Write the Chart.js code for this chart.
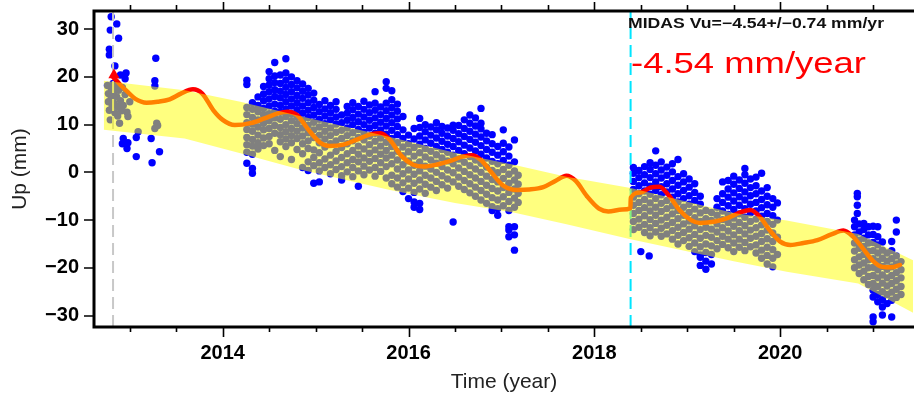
<!DOCTYPE html>
<html>
<head>
<meta charset="utf-8">
<script src="https://cdn.jsdelivr.net/npm/chart.js@4.4.1/dist/chart.umd.min.js"></script>
<style>
  html, body { margin: 0; padding: 0; background: #fff; }
  #wrap { width: 914px; height: 396px; }
</style>
</head>
<body>
<div id="wrap"><canvas id="chart" width="914" height="396"></canvas></div>
<script>
// ── Axis ranges & labels ──
const X_RANGE = [2012.615, 2021.44];
const Y_RANGE = [-32.4, 33.8];
const X_LABEL_YEARS = [2014, 2016, 2018, 2020];
const EVENT_START   = 2012.82;   // grey dashed line
const EVENT_ANTENNA = 2018.39;   // cyan dashed line
const START_MARK    = [2012.83, 20.4];
const MIDAS_TEXT = "MIDAS Vu=\u22124.54+/\u22120.74 mm/yr";
const RATE_TEXT  = "-4.54 mm/year";

// ── Trend band (drawn half transparent over everything) ──
const BAND_YEARS = [2012.72, 2013.59, 2014.19, 2014.83, 2015.80, 2016.50, 2017.13, 2017.70, 2018.39, 2019.50, 2020.07, 2020.84, 2021.43];
const BAND_UPPER = [19.2, 17.2, 14.8, 11.8, 7.4, 4.1, 1.6, -0.9, -3.3, -8.5, -10.1, -12.9, -18.4];
const BAND_LOWER = [8.9, 7.1, 4.0, 0.6, -3.7, -6.4, -8.4, -10.9, -14.0, -18.6, -20.8, -23.3, -29.4];

// ── Seasonal fit ──
const FIT_YEARS = [2012.82, 2012.90, 2012.98, 2013.06, 2013.18, 2013.30, 2013.43, 2013.55, 2013.68, 2013.78, 2013.90, 2014.00, 2014.13,
  2014.30, 2014.45, 2014.60, 2014.70, 2014.80, 2014.92, 2015.05, 2015.15, 2015.30, 2015.45, 2015.60, 2015.70, 2015.80, 2015.92,
  2016.05, 2016.16, 2016.30, 2016.45, 2016.58, 2016.68, 2016.78, 2016.90, 2017.02, 2017.17, 2017.30, 2017.45, 2017.58, 2017.70,
  2017.80, 2017.92, 2018.05, 2018.15, 2018.30, 2018.388, 2018.392, 2018.50, 2018.60, 2018.70, 2018.80, 2018.92, 2019.04, 2019.14,
  2019.30, 2019.43, 2019.57, 2019.68, 2019.78, 2019.89, 2020.00, 2020.11, 2020.25, 2020.40, 2020.55, 2020.68, 2020.78, 2020.90,
  2021.00, 2021.10, 2021.20, 2021.29];
const FIT_UP = [20.0, 18.3, 16.8, 15.4, 14.6, 14.8, 15.3, 16.5, 17.4, 16.5, 13.0, 11.0, 9.9,
  10.3, 11.3, 12.4, 12.7, 12.0, 9.0, 6.2, 5.5, 5.8, 6.9, 8.0, 8.2, 6.8, 3.5,
  1.6, 1.2, 1.6, 2.4, 3.3, 3.6, 2.6, -0.2, -2.8, -3.7, -3.6, -3.1, -1.8, -0.7,
  -1.8, -5.0, -7.6, -8.2, -7.8, -7.5, -5.3, -4.2, -3.2, -3.0, -4.8, -8.0, -10.0, -10.6,
  -10.3, -9.6, -8.4, -7.9, -9.3, -12.2, -14.5, -15.2, -14.8, -14.2, -13.0, -12.2, -13.4, -16.2,
  -18.6, -19.8, -19.9, -19.4];

// ── Daily positions: [year, up...] columns and single [year, up] pairs ──
const OBS_2012 = [
  [2012.80, 32.6], [2012.86, 31.1], [2012.79, 29.8], [2012.88, 28.1], [2012.78, 25.8], [2012.78, 24.6], [2012.84, 22.3],
  [2013.28, 23.9], [2012.90, 20.4], [2012.96, 20.8], [2012.95, 19.6], [2013.27, 19.2], [2013.27, 18.1], [2012.93, 7.1],
  [2012.98, 6.2], [2012.97, 5.0], [2013.07, 7.3], [2013.23, 7.1], [2013.07, 3.3], [2013.32, 4.3], [2013.24, 2.0], [2012.92, 6.0],
  [2012.76, 18.2], [2012.77, 16.5], [2012.77, 14.8], [2012.78, 13.0], [2012.79, 11.0], [2012.80, 17.6], [2012.80, 15.6],
  [2012.81, 13.9], [2012.82, 18.6], [2012.83, 16.9], [2012.83, 14.5], [2012.84, 12.5], [2012.85, 18.0], [2012.86, 15.8],
  [2012.87, 13.8], [2012.87, 11.8], [2012.88, 17.2], [2012.89, 10.3], [2012.90, 15.0], [2012.91, 12.9], [2012.92, 17.8],
  [2012.93, 14.0], [2012.95, 16.3], [2012.97, 12.6], [2012.98, 11.7], [2013.00, 14.8], [2013.09, 8.5], [2013.27, 9.2],
  [2013.29, 10.3], [2013.30, 9.8]
];
const OBS_2014 = [
  [2014.26, 1.9, 4.2, 5.8, 7.3, 9.0, 10.4, 12.1, 13.6, 18.4, 19.3],
  [2014.32, -0.2, 0.8, 3.8, 5.5, 6.9, 8.6, 10.1, 11.5, 13.2, 14.6],
  [2014.38, 4.9, 6.2, 7.8, 9.5, 11.0, 12.7, 14.0, 15.8],
  [2014.44, 5.6, 7.2, 8.9, 10.3, 12.0, 13.4, 15.0, 16.4, 18.0],
  [2014.50, 6.0, 7.5, 9.2, 10.8, 12.3, 13.9, 15.4, 16.9, 18.3, 19.6, 21.1],
  [2014.56, 4.6, 8.2, 9.8, 11.4, 12.8, 14.3, 15.9, 17.3, 18.8, 20.2, 23.0],
  [2014.62, 3.3, 6.4, 7.9, 9.4, 11.1, 12.6, 14.0, 15.6, 17.0, 18.6, 20.4],
  [2014.68, 5.4, 7.0, 8.5, 10.0, 11.7, 13.3, 14.8, 16.3, 17.8, 19.3, 20.8, 23.8],
  [2014.74, 2.7, 6.2, 7.7, 9.2, 10.8, 12.3, 13.9, 15.4, 16.9, 18.4, 20.0],
  [2014.80, 4.8, 7.1, 8.6, 10.2, 11.6, 13.1, 14.6, 16.1, 17.7, 19.2],
  [2014.86, 1.0, 3.9, 6.0, 7.6, 9.3, 10.9, 12.4, 13.9, 15.5, 17.0, 18.5],
  [2014.92, 0.4, 2.2, 5.0, 6.6, 8.3, 9.9, 11.5, 13.0, 14.6, 16.2, 17.6],
  [2014.98, -2.3, 1.4, 3.1, 4.7, 7.3, 8.9, 10.5, 12.0, 13.6, 15.1, 16.6],
  [2015.04, -2.0, 0.3, 2.0, 4.1, 6.2, 7.8, 9.5, 11.1, 12.7, 14.2],
  [2015.10, 1.0, 2.8, 5.3, 7.0, 8.6, 10.2, 11.8, 13.3, 15.0],
  [2015.16, -0.3, 1.6, 3.6, 6.0, 7.7, 9.3, 11.0, 12.5, 14.0],
  [2015.22, 0.6, 2.4, 4.4, 6.6, 8.4, 10.1, 11.6, 13.2, 14.8],
  [2015.28, -1.6, -0.7, 1.2, 3.1, 5.2, 7.1, 8.8, 10.4, 12.0],
  [2015.34, 0.1, 2.0, 3.9, 6.0, 7.7, 9.3, 10.9, 12.4, 13.8],
  [2015.40, -0.9, 1.0, 2.7, 4.6, 6.6, 8.3, 10.0, 11.5, 13.1, 14.6],
  [2015.46, -2.9, 0.3, 2.2, 3.8, 5.5, 7.3, 9.0, 10.6, 12.2, 13.8],
  [2015.52, -0.5, 1.3, 3.0, 4.9, 6.8, 8.4, 10.0, 11.6, 13.2, 14.9],
  [2015.58, 0.5, 2.3, 4.0, 5.8, 7.6, 9.3, 10.9, 12.5, 14.1],
  [2015.64, -0.8, 1.0, 2.9, 4.7, 6.5, 8.2, 9.8, 11.4, 13.0, 14.5, 16.9],
  [2015.70, 0.2, 2.0, 3.8, 5.5, 7.2, 8.9, 10.5, 12.1, 13.7],
  [2015.76, -1.2, 1.2, 3.0, 4.6, 6.3, 8.0, 9.7, 11.3, 12.9, 14.5, 17.6, 19.0],
  [2015.82, -2.4, -0.6, 1.8, 3.6, 5.4, 7.1, 8.8, 10.4, 12.0, 13.6, 15.2, 17.1],
  [2015.88, -3.1, -1.2, 0.7, 2.6, 4.4, 6.2, 7.9, 9.6, 11.2, 12.8, 14.3],
  [2015.94, -4.0, -2.2, -0.3, 1.6, 3.5, 5.3, 7.1, 8.9, 11.7],
  [2016.00, -5.5, -3.3, -1.4, 0.5, 2.4, 4.3, 6.0, 7.8],
  [2016.06, -7.3, -6.2, -4.2, -2.3, -0.4, 1.5, 3.4, 5.2, 7.0, 9.2],
  [2016.12, -7.8, -6.5, -3.5, -1.6, 0.3, 2.2, 4.1, 5.9, 7.6, 9.4, 11.3],
  [2016.18, -4.4, -2.5, -0.6, 1.3, 3.2, 5.0, 6.8, 8.5, 10.0],
  [2016.24, -3.1, -1.2, 0.7, 2.6, 4.4, 6.1, 7.8, 9.5],
  [2016.30, -3.8, -1.9, 0.0, 1.9, 3.7, 5.4, 7.2, 8.9, 10.4],
  [2016.36, -2.6, -0.7, 1.2, 3.0, 4.8, 6.5, 8.2, 9.6],
  [2016.42, -3.3, -1.4, 0.5, 2.4, 4.2, 5.9, 7.6, 9.3],
  [2016.48, -10.4, -2.0, -0.1, 1.8, 3.6, 5.4, 7.1, 8.8, 9.9],
  [2016.54, -2.9, -1.0, 0.9, 2.8, 4.6, 6.4, 8.1, 9.8],
  [2016.60, -3.6, -1.7, 0.2, 2.1, 3.9, 5.7, 7.5, 9.2, 11.0],
  [2016.66, -4.3, -2.4, -0.5, 1.4, 3.3, 5.1, 6.9, 8.6, 10.3, 12.0],
  [2016.72, -5.0, -3.1, -1.2, 0.7, 2.6, 4.5, 6.3, 8.0, 9.7, 11.4],
  [2016.78, -5.8, -3.8, -1.9, 0.0, 1.9, 3.8, 5.6, 7.4, 9.1, 10.3, 13.4],
  [2016.84, -6.5, -4.6, -2.7, -0.8, 1.1, 3.0, 4.8, 6.6, 8.2],
  [2016.90, -8.0, -7.2, -5.3, -3.4, -1.5, 0.4, 2.3, 4.2, 6.0, 7.9],
  [2016.96, -9.0, -7.6, -5.8, -3.9, -2.0, -0.1, 1.8, 3.6, 5.4],
  [2017.02, -7.0, -5.1, -3.2, -1.3, 0.6, 2.5, 4.3, 6.1, 8.9],
  [2017.08, -13.5, -12.1, -11.4, -8.0, -6.1, -4.2, -2.3, -0.4, 1.5, 3.4, 5.3],
  [2017.14, -16.3, -13.1, -11.4, -7.3, -5.4, -3.5, -1.6, 0.3, 2.2, 6.8],
  [2017.18, -6.3, -4.4, -2.5, -0.6]
];
const OBS_2018 = [
  [2018.42, -12.0, -10.3, -8.6, -6.9, -5.2, -3.6, -1.9, -0.2, 1.0],
  [2018.48, -11.5, -9.8, -8.0, -6.3, -4.5, -2.8, -1.1, 0.4],
  [2018.50, -16.6],
  [2018.54, -12.6, -10.9, -9.1, -7.4, -5.7, -3.9, -2.2, -0.5, 1.2],
  [2018.59, -17.5],
  [2018.60, -13.3, -11.6, -9.9, -8.1, -6.4, -4.6, -2.9, -1.1, 0.6, 2.0],
  [2018.66, -12.5, -10.7, -9.0, -7.3, -5.5, -3.8, -2.0, -0.3, 1.5, 4.5],
  [2018.72, -13.4, -11.7, -10.0, -8.2, -6.5, -4.7, -3.0, -1.2, 0.5, 2.2],
  [2018.78, -12.9, -11.1, -9.4, -7.6, -5.9, -4.1, -2.4, -0.6, 1.1],
  [2018.84, -14.0, -12.2, -10.5, -8.7, -7.0, -5.2, -3.5, -1.7, 0.1, 1.8],
  [2018.90, -15.0, -13.2, -11.5, -9.7, -8.0, -6.2, -4.5, -2.7, -0.9, 2.7],
  [2018.96, -14.3, -12.6, -10.8, -9.0, -7.3, -5.5, -3.8, -2.0, -0.3],
  [2019.02, -15.5, -13.7, -11.9, -10.2, -8.4, -6.7, -4.9, -3.1, -1.4],
  [2019.08, -16.6, -14.8, -13.0, -11.2, -9.5, -7.7, -5.9, -4.2, -2.4],
  [2019.14, -19.5, -17.8, -17.3, -15.6, -13.8, -12.0, -10.3, -8.5, -6.7, -5.0],
  [2019.20, -20.3, -18.6, -16.8, -15.0, -13.2, -11.5, -9.7, -8.0],
  [2019.26, -19.2, -17.2, -15.4, -13.6, -11.9, -10.1, -8.4],
  [2019.32, -16.0, -14.3, -12.5, -10.8, -9.0, -7.3, -5.5],
  [2019.38, -15.1, -13.4, -11.6, -9.9, -8.1, -6.3, -4.5, -2.0],
  [2019.44, -15.8, -14.0, -12.3, -10.5, -8.8, -7.0, -5.2, -3.5, -1.7],
  [2019.50, -16.6, -14.8, -13.1, -11.3, -9.6, -7.8, -6.0, -4.3, -2.5, -0.8],
  [2019.56, -15.7, -14.0, -12.2, -10.5, -8.7, -6.9, -5.1, -3.4, -1.6],
  [2019.62, -16.4, -14.7, -12.9, -11.2, -9.4, -7.6, -5.8, -4.1, -2.3, -0.5, 0.8],
  [2019.68, -15.6, -13.8, -12.1, -10.3, -8.5, -6.7, -4.9, -3.2, -1.4],
  [2019.74, -16.9, -15.2, -13.4, -11.6, -9.8, -8.1, -6.3, -4.5, -2.8, -1.0],
  [2019.80, -18.0, -16.3, -14.5, -12.8, -11.0, -9.2, -7.4, -5.7, -3.9, -0.2],
  [2019.86, -19.2, -17.4, -15.7, -13.9, -12.1, -10.3, -8.6, -6.8, -5.0, -3.2],
  [2019.92, -19.8, -18.0, -16.2, -14.5, -12.7, -10.9, -9.1, -7.3, -5.5],
  [2019.97, -17.2, -13.6, -10.0, -6.4]
];
const OBS_2020 = [
  [2020.80, -20.0, -18.3, -16.5, -14.8, -13.1, -11.4, -10.0],
  [2020.83, -8.6, -6.9, -5.1, -4.4],
  [2020.85, -21.2, -19.4, -17.7, -15.9, -14.2, -12.5, -10.8],
  [2020.90, -22.5, -20.7, -19.0, -17.2, -15.5, -13.8, -12.0, -10.7],
  [2020.95, -23.5, -21.8, -20.0, -18.3, -16.5, -14.8, -13.1, -11.4],
  [2021.00, -31.3, -30.3, -26.1, -24.7, -23.3, -21.6, -19.9, -18.1, -16.4, -14.7, -13.0, -11.3],
  [2021.05, -27.1, -25.6, -23.9, -22.1, -20.4, -18.6, -16.9, -15.2, -13.5, -11.4],
  [2021.10, -29.9, -28.2, -26.7, -25.0, -23.2, -21.5, -19.7, -18.0, -16.3, -14.6],
  [2021.15, -27.5, -25.6, -23.8, -22.1, -20.3, -18.6, -16.9],
  [2021.20, -30.3, -26.8, -25.1, -23.3, -21.6, -19.8, -18.1, -16.4, -14.5],
  [2021.25, -26.2, -24.5, -22.7, -21.0, -19.2, -17.5, -12.5, -10.0],
  [2021.30, -25.6, -23.9, -22.1, -20.4, -18.7]
];

const COLORS = {
  obs:     "#0000ff",
  fit:     "#ff0000",
  band:    "rgba(255, 255, 0, 0.5)",
  start:   "#c8c8c8",
  antenna: "#00e5ff",
  axis:    "#000000",
  rate:    "#ff0000"
};
const FONT = "'Liberation Sans', Arial, Helvetica, sans-serif";

// ── Fixed frame (px) ──
const FRAME = { left: 94, top: 11, bottom: 327 };

// ── helpers ──
const toPoints    = (xs, ys) => xs.map((x, i) => ({ x, y: ys[i] }));
const fromPairs   = pairs => pairs.map(([x, y]) => ({ x, y }));
const fromColumns = cols => cols.flatMap(([t, ...vs]) => vs.map(v => ({ x: t, y: v })));
const isLabelYear = v => X_LABEL_YEARS.includes(Math.round(v * 2) / 2);

function fitText(ctx, str, x0, base, width) {
  const w = ctx.measureText(str).width;
  ctx.save();
  ctx.translate(x0, base);
  ctx.scale(width / w, 1);
  ctx.fillText(str, 0, 0);
  ctx.restore();
}

// ── Frame, ticks and annotations (drawn on top) ──
const framePlugin = {
  id: "frame",
  afterDraw(chart) {
    const { ctx, chartArea: a, scales: { x, y } } = chart;
    ctx.save();
    ctx.strokeStyle = COLORS.axis;
    ctx.lineWidth = 3;
    ctx.beginPath();
    ctx.moveTo(a.right + 2, a.top);
    ctx.lineTo(a.left, a.top);
    ctx.lineTo(a.left, a.bottom);
    ctx.lineTo(a.right + 2, a.bottom);
    ctx.stroke();

    ctx.lineWidth = 1.6;
    ctx.beginPath();
    y.ticks.forEach(t => {
      const py = Math.round(y.getPixelForValue(t.value));
      ctx.moveTo(a.left - 10, py);
      ctx.lineTo(a.left, py);
    });
    x.ticks.forEach(t => {
      if (t.value < X_RANGE[0] || t.value > X_RANGE[1]) return;
      const px = Math.round(x.getPixelForValue(t.value)) + 0.5;
      const major = isLabelYear(t.value);
      ctx.moveTo(px, a.bottom);
      ctx.lineTo(px, a.bottom + (major ? 10 : 5));
      ctx.moveTo(px, a.top);
      ctx.lineTo(px, a.top - (major ? 9 : 6));
    });
    ctx.stroke();

    ctx.fillStyle = "#111";
    ctx.font = `bold 14px ${FONT}`;
    fitText(ctx, MIDAS_TEXT, a.left + 534, 28, 256);
    ctx.fillStyle = COLORS.rate;
    ctx.font = `30px ${FONT}`;
    fitText(ctx, RATE_TEXT, a.left + 537, 73, 235);
    ctx.restore();
  }
};

const obsPoints = [
  ...fromPairs(OBS_2012),
  ...fromColumns(OBS_2014),
  ...fromColumns(OBS_2018),
  ...fromColumns(OBS_2020)
];

new Chart(document.getElementById("chart"), {
  type: "line",
  data: {
    datasets: [
      { data: toPoints(BAND_YEARS, BAND_UPPER), fill: "+1", backgroundColor: COLORS.band,
        borderWidth: 0, pointRadius: 0, tension: 0 },
      { data: toPoints(BAND_YEARS, BAND_LOWER), fill: false, borderWidth: 0, pointRadius: 0, tension: 0 },
      { data: toPoints(FIT_YEARS, FIT_UP), fill: false, borderColor: COLORS.fit, borderWidth: 4.5,
        pointRadius: 0, cubicInterpolationMode: "monotone", borderCapStyle: "round", borderJoinStyle: "round" },
      { data: [{ x: START_MARK[0], y: START_MARK[1] }], showLine: false, pointStyle: "triangle",
        pointRadius: 6.5, pointBackgroundColor: COLORS.fit, pointBorderWidth: 0 },
      { data: [{ x: EVENT_START, y: Y_RANGE[0] }, { x: EVENT_START, y: Y_RANGE[1] }], fill: false,
        borderColor: COLORS.start, borderWidth: 2, borderDash: [12, 6], pointRadius: 0 },
      { data: [{ x: EVENT_ANTENNA, y: Y_RANGE[0] }, { x: EVENT_ANTENNA, y: Y_RANGE[1] }], fill: false,
        borderColor: COLORS.antenna, borderWidth: 2, borderDash: [12, 6], pointRadius: 0 },
      { data: obsPoints, showLine: false, pointRadius: 3.7, pointBackgroundColor: COLORS.obs,
        pointBorderWidth: 0 }
    ]
  },
  options: {
    responsive: false,
    animation: false,
    events: [],
    layout: { autoPadding: false, padding: { top: FRAME.top, left: 8, right: 0, bottom: 0 } },
    plugins: { legend: { display: false }, tooltip: { enabled: false } },
    scales: {
      x: {
        type: "linear",
        min: X_RANGE[0],
        max: X_RANGE[1],
        border: { display: false },
        grid: { drawOnChartArea: false, color: "rgba(0,0,0,0)", tickLength: 10 },
        ticks: {
          stepSize: 0.5, autoSkip: false, maxRotation: 0, includeBounds: false, padding: 4,
          color: "#000", font: { family: FONT, size: 20, weight: "bold" },
          callback: v => isLabelYear(v) ? String(Math.round(v)) : ""
        },
        title: { display: true, text: "Time (year)", color: "#222",
                 font: { family: FONT, size: 21 }, padding: { top: 4, bottom: 1 } },
        afterFit: s => { s.height = 396 - FRAME.bottom; s.paddingLeft = 0; s.paddingRight = 0; }
      },
      y: {
        min: Y_RANGE[0],
        max: Y_RANGE[1],
        border: { display: false },
        grid: { drawOnChartArea: false, color: "rgba(0,0,0,0)", tickLength: 10 },
        ticks: {
          stepSize: 10, includeBounds: false, padding: 5,
          color: "#000", font: { family: FONT, size: 20, weight: "bold" },
          callback: v => v < 0 ? "\u2212" + Math.abs(v) : String(v)
        },
        title: { display: true, text: "Up (mm)", color: "#222",
                 font: { family: FONT, size: 21 }, padding: { top: 0, bottom: 8 } },
        afterFit: s => { s.width = FRAME.left - 8; s.paddingTop = 0; s.paddingBottom = 0; }
      }
    }
  },
  plugins: [framePlugin]
});
</script>
</body>
</html>
